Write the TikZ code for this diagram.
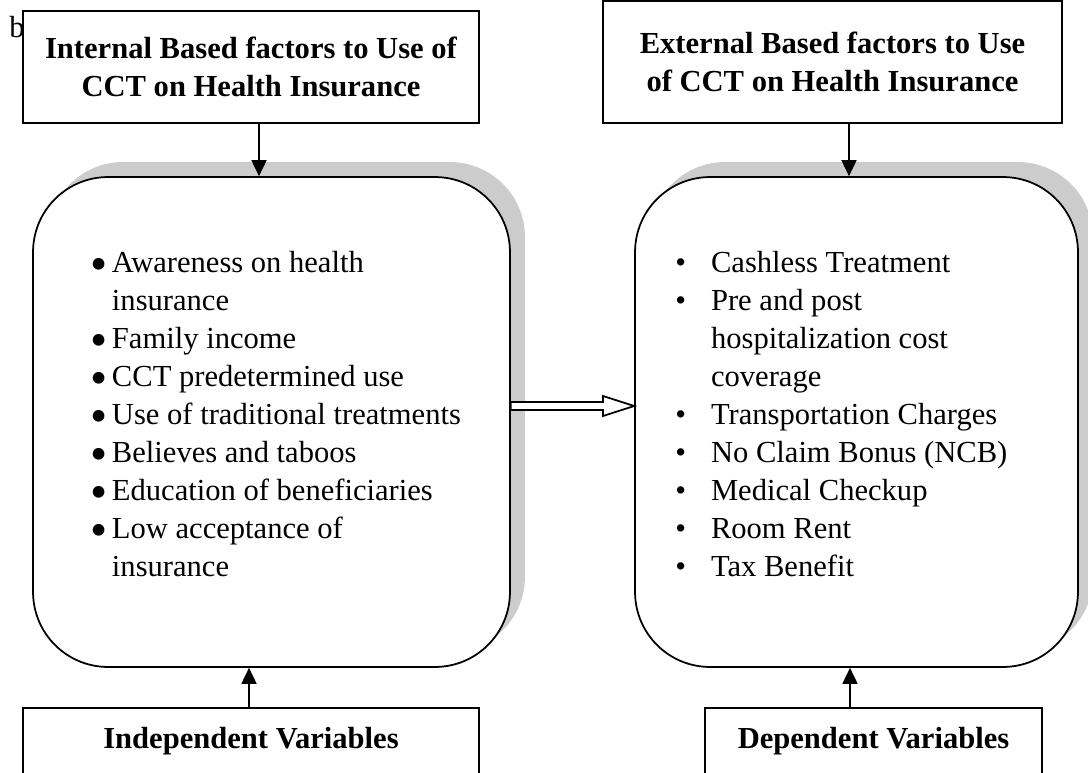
\documentclass[tikz,border=0pt]{standalone}
\usepackage{fontspec}
\setmainfont{Liberation Serif}
\usetikzlibrary{arrows.meta,shadows}
\newcommand{\bigdot}{\raisebox{-0.55ex}[0.8ex][0pt]{\scalebox{1.6}{\textbullet}}}
\tikzset{
  titlebox/.style={draw,line width=1pt,align=center,font=\bfseries\fontsize{17.4}{21.6}\selectfont},
  roundbox/.style={draw,line width=1pt,fill=white,rounded corners=1.5cm,minimum height=9.8cm,
    general shadow={fill=gray!40,shadow xshift=0.3cm,shadow yshift=0.3cm}},
  varbox/.style={draw,line width=1pt,anchor=north,inner sep=0pt,text height=0.82cm,text depth=1.3cm,
    font=\bfseries\fontsize{17.4}{21.6}\selectfont},
  listtext/.style={anchor=north west,inner sep=0pt,font=\fontsize{17.4}{21.6}\selectfont},
  arr/.style={line width=1pt,-{Triangle[width=0.3cm,length=0.32cm]}}
}
\begin{document}
\begin{tikzpicture}[x=0.02cm,y=-0.02cm]
      \useasboundingbox (0,0) rectangle (1088,773);
      \clip (0,0) rectangle (1088,773);
      %titoli
      \node[font=\fontsize{17.4}{21.6}\selectfont,inner sep=0pt,anchor=base] (bmark) at (17,38) {b};
      \node[titlebox,minimum width=9.12cm,minimum height=2.24cm] (intfac) at (251,67) {Internal Based factors to Use of\\CCT on Health Insurance};
      \node[titlebox,minimum width=9.18cm,minimum height=2.44cm] (extfac) at (832.5,62) {External Based factors to Use\\of CCT on Health Insurance};
      %riquadri
      \node[roundbox,minimum width=9.54cm] (intbox) at (271.5,422) {};
      \node[roundbox,minimum width=8.86cm] (extbox) at (856.5,422) {};
      \node[listtext] (intlist) at (90,246) {\begin{tabular}{@{}l@{\hspace{0.09cm}}l@{}}
        \bigdot & Awareness on health\\
        & insurance\\
        \bigdot & Family income\\
        \bigdot & CCT predetermined use\\
        \bigdot & Use of traditional treatments\\
        \bigdot & Believes and taboos\\
        \bigdot & Education of beneficiaries\\
        \bigdot & Low acceptance of\\
        & insurance
      \end{tabular}};
      \node[listtext] (extlist) at (675,246) {\begin{tabular}{@{}l@{\hspace{0.5cm}}l@{}}
        \textbullet & Cashless Treatment\\
        \textbullet & Pre and post\\
        & hospitalization cost\\
        & coverage\\
        \textbullet & Transportation Charges\\
        \textbullet & No Claim Bonus (NCB)\\
        \textbullet & Medical Checkup\\
        \textbullet & Room Rent\\
        \textbullet & Tax Benefit
      \end{tabular}};
      %variabili
      \node[varbox,minimum width=9.12cm] (indep) at (251,707) {Independent Variables};
      \node[varbox,minimum width=6.74cm] (dep) at (873.5,707) {Dependent Variables};
      %frecce
      \draw[line width=1pt,fill=white] (intbox.east |- 0,402) -- (603,402) -- (603,396) -- (extbox.west |- 0,406)
        -- (603,416) -- (603,410) -- (intbox.east |- 0,410) -- cycle;
      \draw[arr] (intfac.south -| 259,0) -- (intbox.north -| 259,0);
      \draw[arr] (extfac.south -| 849,0) -- (extbox.north -| 849,0);
      \draw[arr] (indep.north -| 249,0) -- (intbox.south -| 249,0);
      \draw[arr] (dep.north -| 850,0) -- (extbox.south -| 850,0);
\end{tikzpicture}
\end{document}
